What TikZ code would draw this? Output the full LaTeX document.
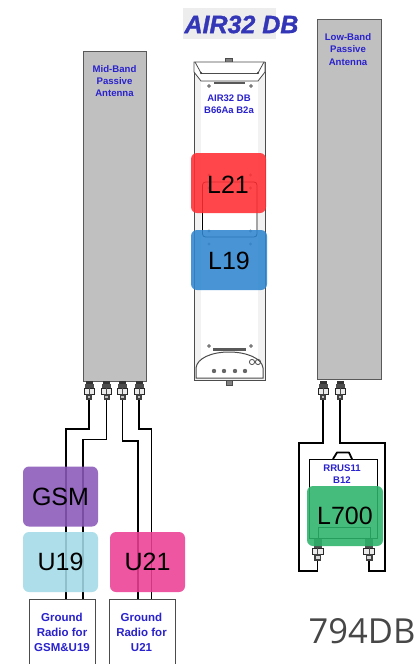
\documentclass[tikz,border=0pt]{standalone}
\usepackage{fontspec}
\setmainfont[BoldItalicFeatures={FakeBold=1.3}]{Liberation Sans}
\newfontfamily\thinfont{Open Sans}
\definecolor{lblblue}{HTML}{2A22CC}
\definecolor{antgrey}{HTML}{C0C0C0}
\definecolor{titleblue}{HTML}{3436B8}
\definecolor{l21red}{HTML}{FF2E33}
\definecolor{l19blue}{HTML}{2F86D0}
\definecolor{gsmpurple}{HTML}{8A58B8}
\definecolor{u19cyan}{HTML}{A2DAE6}
\definecolor{u21pink}{HTML}{EC3F94}
\definecolor{l700green}{HTML}{2DB36A}
\tikzset{
  x=1pt,y=-1pt,
  antenna/.style={draw=black!65,line width=1pt,fill=antgrey,inner sep=0,anchor=north west},
  lbl/.style={text=lblblue,font=\bfseries\fontsize{9.6}{12.2}\selectfont,align=center,inner sep=0},
  grlbl/.style={text=lblblue,font=\bfseries\fontsize{11.5}{15}\selectfont,align=center,inner sep=0},
  band/.style={rounded corners=6pt,minimum width=75pt,minimum height=60pt,inner sep=0,fill opacity=.88,text opacity=1,text=black,font=\fontsize{25}{25}\selectfont},
  wire/.style={line width=1.8pt,black,line join=miter},
  radio/.style={draw=black!70,line width=.8pt,fill=white,inner sep=0,anchor=north west,minimum width=66pt,minimum height=70pt},
  part/.style={draw=black!70,line width=.8pt},
}
\newcommand{\rfconn}[2]{%
  \fill[black!80] (#1-3.5,#2) rectangle (#1+3.5,#2+5);
  \fill[black!70] (#1-4.5,#2+3) rectangle (#1+4.5,#2+7);
  \draw[black!85,fill=black!8,line width=.7pt] (#1-5,#2+7) rectangle (#1+5,#2+13);
  \draw[black!70,line width=.4pt] (#1,#2+7) -- (#1,#2+13);
  \fill[black!75] (#1-3,#2+13) rectangle (#1+3,#2+19);
  \fill[black!25] (#1-1.2,#2+14.5) rectangle (#1+1.2,#2+17);
}
\newcommand{\rfconnup}[2]{%
  \fill[black!70] (#1-4,#2-9) rectangle (#1+4,#2);
  \draw[black!85,fill=black!8,line width=.7pt] (#1-5.5,#2) rectangle (#1+5.5,#2+6);
  \draw[black!70,line width=.4pt] (#1,#2) -- (#1,#2+6);
  \fill[black!75] (#1-3.5,#2+6) rectangle (#1+3.5,#2+13);
  \fill[black!15] (#1-2,#2+8) rectangle (#1+2,#2+11);
}
\begin{document}
\begin{tikzpicture}
\useasboundingbox (0,0) rectangle (419,664);
\fill[white] (0,0) rectangle (419,664);

% title
\fill[black!7] (183,8) rectangle (276,39);
\node[inner sep=0,text=titleblue,font=\bfseries\itshape\fontsize{25}{25}\selectfont] (title) at (241.5,24.5) {AIR32 DB};

% passive antennas
\node[antenna,minimum width=63pt,minimum height=330pt] (mid) at (83,51) {};
\node[lbl] (midlbl) at (114.5,81) {Mid-Band\\Passive\\Antenna};
\node[antenna,minimum width=64pt,minimum height=360pt] (low) at (317,19) {};
\node[lbl] (lowlbl) at (348,49.5) {Low-Band\\Passive\\Antenna};

% AIR32 radio body
\fill[black!5] (194,62) rectangle (265,380);
\fill[white] (201,82) rectangle (258,360);
\draw[part,fill=black!50] (225.5,58) rectangle (232.5,62);
\draw[part,line width=1pt] (194,62) rectangle (265,380);
\draw[part,fill=white] (194,62) -- (265,62) -- (265,72) -- (258,81) -- (201,81) -- (194,72) -- cycle;
\draw[part] (201,73) -- (258,73);
\draw[part] (195,62) -- (201,73) (264,62) -- (258,73);
\fill[black!80] (201,73) circle (1.2) (258,73) circle (1.2);
\fill[black!65] (214,81.5) rectangle (245,84);
\draw[part,fill=white] (209,86) circle (1.4);
\draw[part,fill=white] (251,86) circle (1.4);
\node[lbl,font=\bfseries\fontsize{9.5}{12}\selectfont] (airlbl) at (229,104) {AIR32 DB\\B66Aa B2a};
\draw[black,line width=.8pt,rounded corners=3pt] (202.5,182) rectangle (257,237);
\foreach \y in {175,188,231,244} {\fill[black!45] (209,\y) circle (1.6); \fill[black!45] (250.5,\y) circle (1.6);}
\draw[part,fill=white] (209,346) circle (1.4);
\draw[part,fill=white] (251,346) circle (1.4);
\fill[black!65] (213,348) rectangle (246,350.5);
\draw[part,fill=white,line width=1pt] (196,378) -- (196,368) .. controls (197,358) and (212,352) .. (229,352) .. controls (246,352) and (262,358) .. (263,368) -- (263,378) -- cycle;
\foreach \x in {214,224,235,245} {\fill[black!60] (\x,371) circle (2.2);}
\draw[part] (252,362) circle (2.6) (258,362) circle (2.6);
\draw[part,fill=black!50] (226,380) rectangle (232,385);

\node[band,fill=l21red] (l21) at (228.5,183) {};
\node[inner sep=0,font=\fontsize{25}{25}\selectfont] (l21t) at (228,185) {L21};
\node[band,fill=l19blue,minimum width=76pt] (l19) at (229,260) {};
\node[inner sep=0,font=\fontsize{25}{25}\selectfont] (l19t) at (229,261) {L19};

% radio boxes (behind wires)
\node[radio] (gr1) at (29,599) {};
\node[radio] (gr2) at (109,599) {};
\node[grlbl] (gr1t) at (62,632) {Ground\\Radio for\\GSM\&U19};
\node[grlbl] (gr2t) at (141.5,632) {Ground\\Radio for\\U21};

% RRUS
\draw[black,line width=1.8pt,line join=round] (333,459) -- (337,452.5) -- (349,452.5) -- (352,459);
\node[draw=black,line width=1.3pt,fill=white,inner sep=0,anchor=north west,minimum width=68pt,minimum height=79pt] (rrus) at (309,459) {};
\node[lbl] (rruslbl) at (342,474.5) {RRUS11\\B12};
\draw[black,line width=1pt] (318,538) -- (318,527.5) -- (370,527.5) -- (370,538);

% named connector ends
\coordinate (m1) at (89,399);
\coordinate (m2) at (106.5,399);
\coordinate (m3) at (122.5,399);
\coordinate (m4) at (139,399);
\coordinate (l1) at (323,399);
\coordinate (l2) at (340,399);
\coordinate (r1) at (317.5,560);
\coordinate (r2) at (369,560);

% wires
\draw[wire] (m1) |- (66,429) -- (66,599);
\draw[wire] (m2) |- (83,439.5) -- (83,599);
\draw[wire] (m3) |- (138,441) -- (138,599);
\draw[wire] (m4) |- (151.5,429) -- (151.5,599);
\draw[wire] (l1) |- (299,443) |- (317.5,571) -- (r1);
\draw[wire] (l2) |- (385,443) |- (369,571) -- (r2);

% connectors
\foreach \x in {89,106.5,122.5,139} {\rfconn{\x}{381}}
\foreach \x in {323,340} {\rfconn{\x}{381}}
\foreach \x in {317.5,369} {\rfconnup{\x}{548}}

% coloured bands
\node[band,fill=gsmpurple] (gsm) at (60.5,496.5) {GSM};
\node[band,fill=u19cyan] (u19) at (60.5,562) {U19};
\node[band,fill=u21pink] (u21) at (147.5,562) {U21};
\node[band,fill=l700green,minimum width=76pt] (l700) at (345,516) {L700};

% free text
\node[inner sep=0,text=black!72,font=\thinfont\fontsize{34.5}{36}\selectfont] (tag) at (362,631.5) {794DB};
\end{tikzpicture}
\end{document}
